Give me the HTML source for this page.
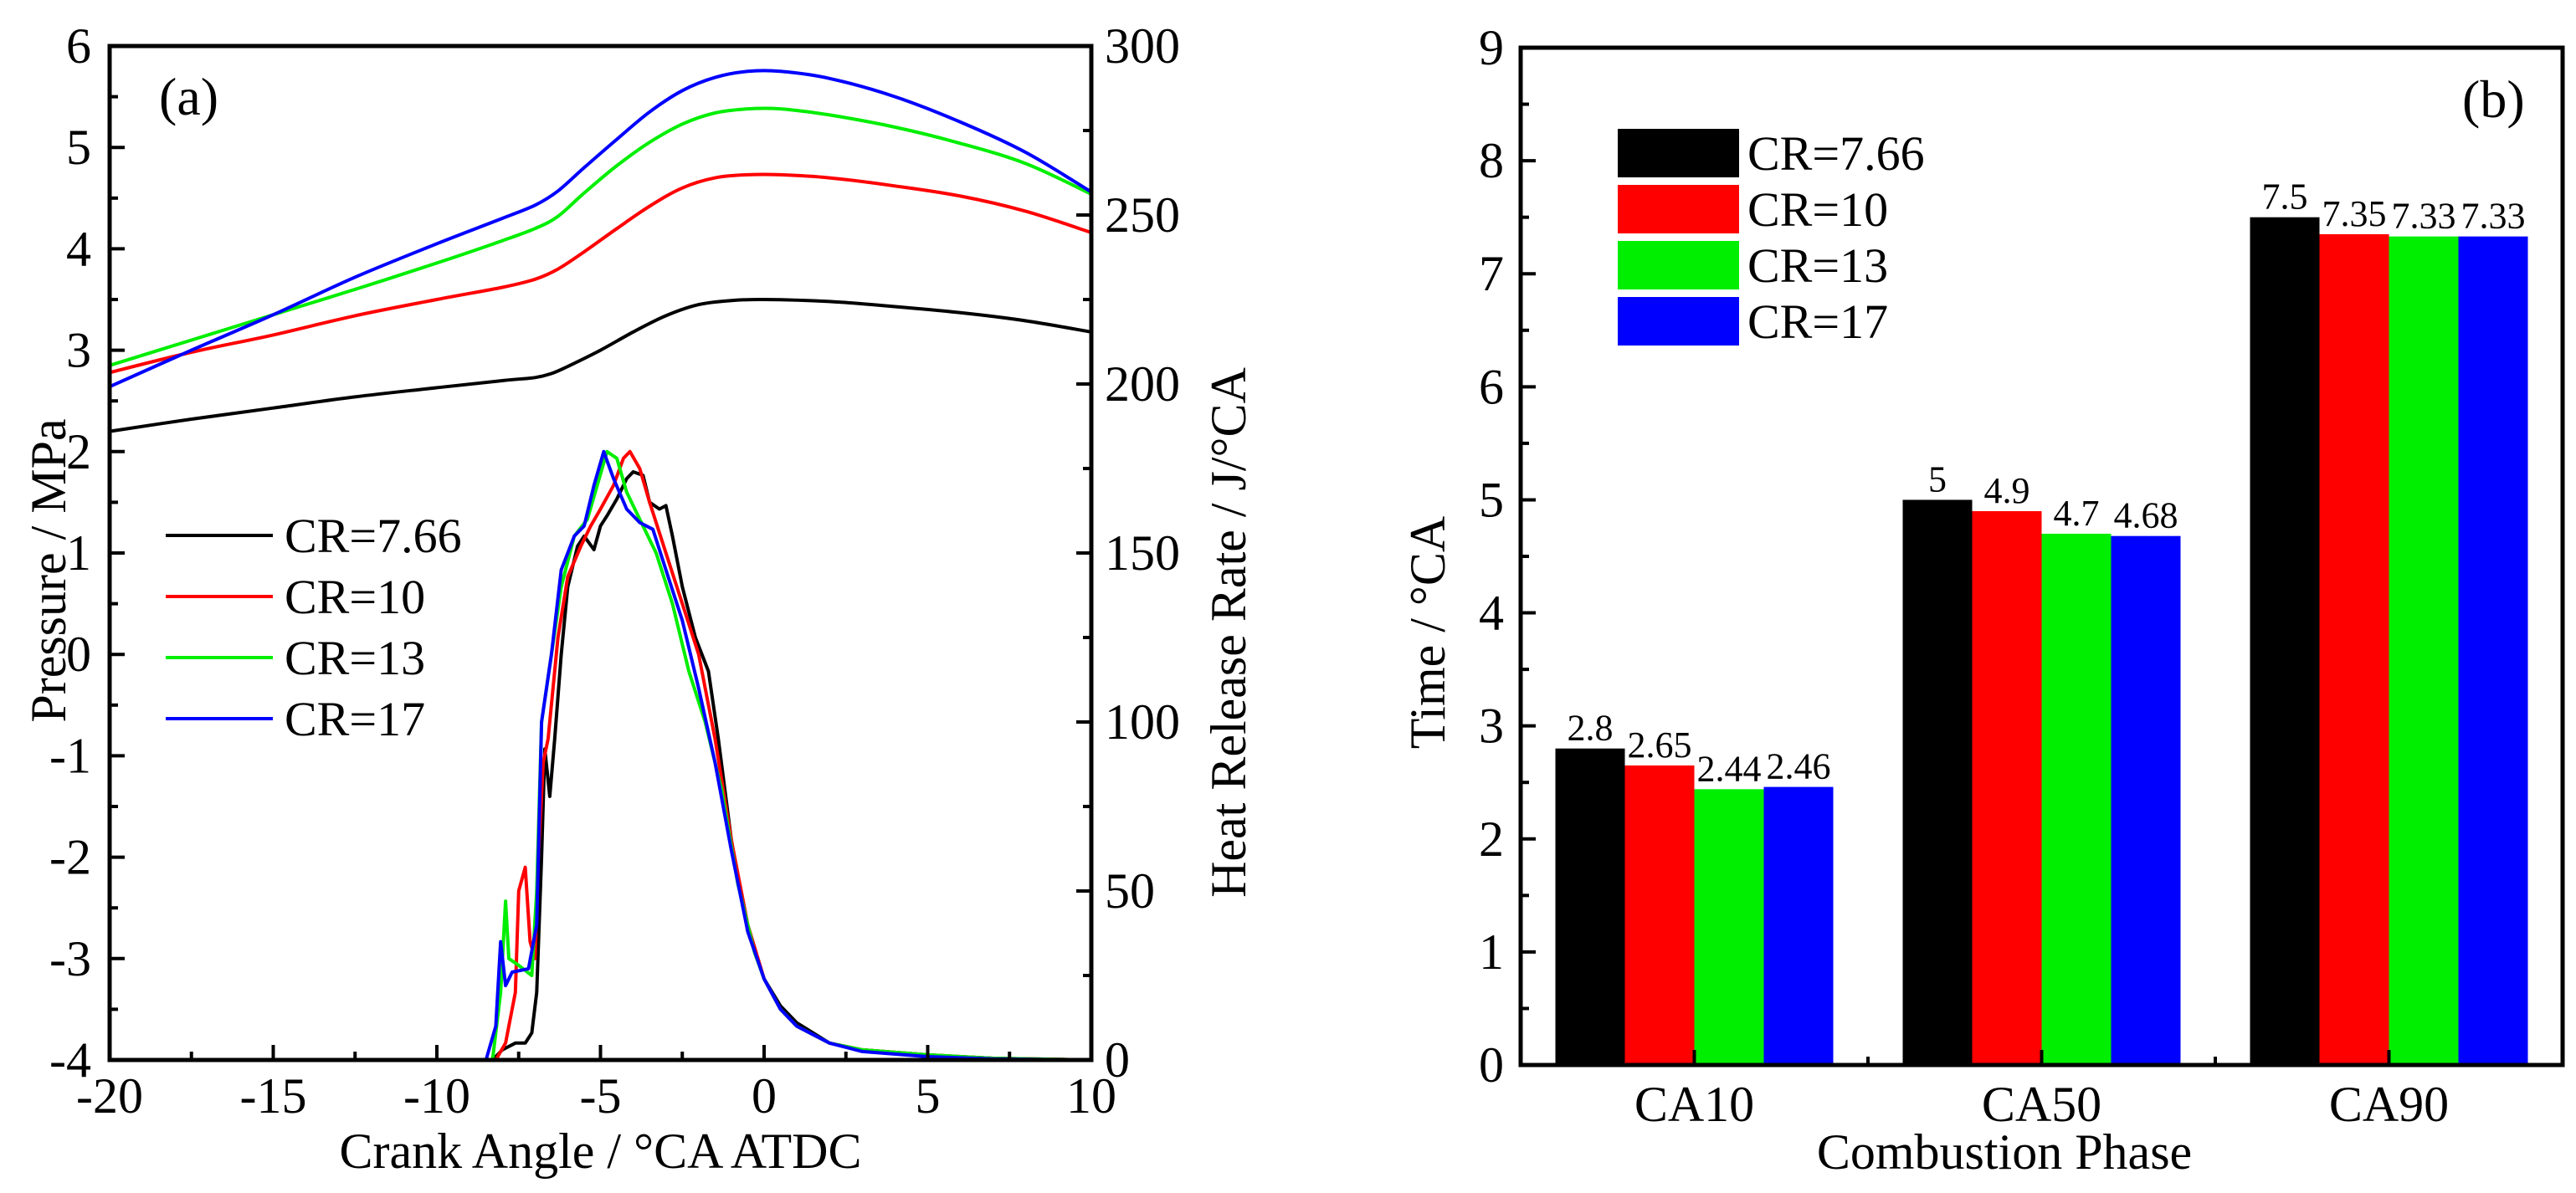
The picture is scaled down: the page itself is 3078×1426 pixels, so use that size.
<!DOCTYPE html>
<html><head><meta charset="utf-8"><style>
html,body{margin:0;padding:0;background:#fff;}
svg{display:block;font-family:"Liberation Serif",serif;}
</style></head><body>
<svg id="c" width="3078" height="1426" viewBox="0 0 3078 1426" xmlns="http://www.w3.org/2000/svg"></svg>
<script>
// ---- Chart (a) data ----
const seriesNames = ["CR=7.66","CR=10","CR=13","CR=17"];
const seriesColors = ["#000000","#ff0000","#00ee00","#0000ff"];
const xTicksA = [-20,-15,-10,-5,0,5,10];
const yTicksLeft = [6,5,4,3,2,1,0,-1,-2,-3,-4];
const yTicksRight = [0,50,100,150,200,250,300];
const pressure766 = [[-20,2.2],[-17.5,2.32],[-15,2.43],[-12.5,2.54],[-10,2.63],[-8,2.7],[-7,2.73],[-6.5,2.77],[-6,2.84],[-5,3.0],[-4,3.18],[-3,3.34],[-2,3.45],[-1,3.49],[0,3.5],[2,3.48],[4,3.43],[6,3.37],[8,3.29],[10,3.18]];
const pressure10 = [[-20,2.78],[-17.5,2.98],[-15,3.15],[-12.5,3.34],[-10,3.5],[-8,3.62],[-7,3.7],[-6.3,3.8],[-5.5,3.97],[-4.5,4.2],[-3.5,4.42],[-2.5,4.6],[-1.5,4.7],[-0.5,4.73],[0.5,4.73],[2,4.7],[4,4.62],[6,4.52],[8,4.37],[10,4.16]];
const pressure13 = [[-20,2.85],[-17.5,3.1],[-15,3.35],[-12.5,3.6],[-10,3.86],[-8,4.08],[-7,4.2],[-6.3,4.32],[-5.5,4.55],[-4.5,4.82],[-3.5,5.05],[-2.5,5.23],[-1.5,5.34],[-0.5,5.38],[0.5,5.38],[2,5.32],[4,5.2],[6,5.04],[8,4.84],[10,4.54]];
const pressure17 = [[-20,2.64],[-17.5,3.0],[-15,3.35],[-12.5,3.72],[-10,4.05],[-8,4.3],[-7,4.43],[-6.3,4.57],[-5.5,4.8],[-4.5,5.08],[-3.5,5.35],[-2.5,5.56],[-1.5,5.69],[-0.5,5.75],[0.5,5.75],[2,5.68],[4,5.5],[6,5.25],[8,4.95],[10,4.56]];
const hrr766 = [[-20,0],[-8.3,0],[-8,3],[-7.6,5],[-7.3,5],[-7.1,8],[-6.95,20],[-6.8,60],[-6.7,92],[-6.55,78],[-6.4,95],[-6.2,120],[-6,140],[-5.7,152],[-5.5,155],[-5.2,151],[-5,158],[-4.8,161],[-4.5,166],[-4.2,172],[-4,174],[-3.7,173],[-3.5,165],[-3.2,163],[-3,164],[-2.8,155],[-2.5,140],[-2.1,125],[-1.7,115],[-1.4,95],[-1,65],[-0.5,38],[0,24],[0.5,16],[1,11],[2,5],[3,3],[5,1.5],[7,0.5],[10,0]];
const hrr10 = [[-20,0],[-8.2,0],[-7.9,5],[-7.6,20],[-7.5,50],[-7.3,57],[-7.15,35],[-7.0,30],[-6.9,60],[-6.75,88],[-6.6,95],[-6.3,125],[-6.0,143],[-5.6,152],[-5.3,158],[-5,163],[-4.6,170],[-4.3,178],[-4.1,180],[-3.8,175],[-3.5,165],[-3,150],[-2.5,135],[-2,120],[-1.5,95],[-1,65],[-0.5,40],[0,24],[0.5,15],[1,10],[2,5],[3,3],[5,1.5],[7,0.5],[10,0]];
const hrr13 = [[-20,0],[-8.3,0],[-8.05,20],[-7.9,47],[-7.8,30],[-7.5,28],[-7.1,25],[-6.95,50],[-6.8,100],[-6.5,120],[-6.2,140],[-5.8,155],[-5.4,160],[-5.1,170],[-4.8,180],[-4.5,178],[-4.2,168],[-3.8,160],[-3.3,150],[-2.8,135],[-2.3,115],[-1.8,100],[-1.3,80],[-0.8,52],[-0.3,32],[0,24],[0.5,15],[1,10],[2,5],[3,3],[5,1.5],[7,0.5],[10,0]];
const hrr17 = [[-20,0],[-8.5,0],[-8.2,10],[-8.05,35],[-7.9,22],[-7.7,26],[-7.2,27],[-6.95,40],[-6.8,100],[-6.5,120],[-6.2,145],[-5.8,155],[-5.5,158],[-5.2,170],[-4.9,180],[-4.6,172],[-4.2,163],[-3.8,159],[-3.4,157],[-3,145],[-2.5,130],[-2,110],[-1.5,88],[-1,62],[-0.5,38],[0,24],[0.5,15],[1,10],[2,5],[3,2.5],[5,1],[7,0.3],[10,0]];
// ---- Chart (b) data ----
const categories = ["CA10","CA50","CA90"];
const bars766 = [2.8,5,7.5];
const bars10 = [2.65,4.9,7.35];
const bars13 = [2.44,4.7,7.33];
const bars17 = [2.46,4.68,7.33];
const barLabels766 = ["2.8","5","7.5"];
const barLabels10 = ["2.65","4.9","7.35"];
const barLabels13 = ["2.44","4.7","7.33"];
const barLabels17 = ["2.46","4.68","7.33"];
const yTicksB = [0,1,2,3,4,5,6,7,8,9];

const NS="http://www.w3.org/2000/svg";
const svg=document.getElementById('c');
function mk(tag,attrs,parent){const e=document.createElementNS(NS,tag);for(const k in attrs)e.setAttribute(k,attrs[k]);(parent||svg).appendChild(e);return e;}
function txt(s,x,y,size,anchor,parent,rot){const t=mk('text',{x:x,y:y,'font-size':size,'font-family':'Liberation Serif, serif','text-anchor':anchor||'middle',fill:'#000'},parent);if(rot)t.setAttribute('transform','rotate(-90 '+x+' '+y+')');t.textContent=s;return t;}
function smooth(pts){let d='M'+pts[0][0].toFixed(1)+','+pts[0][1].toFixed(1);for(let i=0;i<pts.length-1;i++){const p0=pts[i-1]||pts[i],p1=pts[i],p2=pts[i+1],p3=pts[i+2]||p2;
const c1=[p1[0]+(p2[0]-p0[0])/6,p1[1]+(p2[1]-p0[1])/6],c2=[p2[0]-(p3[0]-p1[0])/6,p2[1]-(p3[1]-p1[1])/6];
d+='C'+c1[0].toFixed(1)+','+c1[1].toFixed(1)+' '+c2[0].toFixed(1)+','+c2[1].toFixed(1)+' '+p2[0].toFixed(1)+','+p2[1].toFixed(1);}return d;}

// ===== Chart (a) =====
const A={l:131,r:1304,t:55,b:1267};
const xA=v=>A.l+(v+20)/30*(A.r-A.l);
const yL=v=>A.b-(v+4)/10*(A.b-A.t);
const yR=v=>A.b-v/300*(A.b-A.t);
const gA=mk('g',{});


const pSeries=[pressure766,pressure10,pressure13,pressure17];
const hSeries=[hrr766,hrr10,hrr13,hrr17];
pSeries.forEach((s,i)=>{const p=mk('path',{d:smooth(s.map(d=>[xA(d[0]),yL(d[1])])),fill:'none',stroke:seriesColors[i],'stroke-width':4,'stroke-linejoin':'round'},gA);

});
hSeries.forEach((s,i)=>{const p=mk('path',{d:'M'+s.map(d=>xA(d[0]).toFixed(1)+','+yR(d[1]).toFixed(1)).join('L'),fill:'none',stroke:seriesColors[i],'stroke-width':4,'stroke-linejoin':'round'},gA);

});
const fA=mk('rect',{x:A.l,y:A.t,width:A.r-A.l,height:A.b-A.t,fill:'none',stroke:'#000','stroke-width':5},gA);


for(let v=-20;v<=10;v+=2.5){const major=v%5===0;mk('line',{x1:xA(v),x2:xA(v),y1:A.b,y2:A.b-(major?18:10),stroke:'#000','stroke-width':4},gA);}
xTicksA.forEach(v=>{const t=txt(String(v),xA(v),1330,60,'middle',gA);});
for(let v=-4;v<=6;v+=0.5){const major=Math.abs(v%1)<1e-9;mk('line',{x1:A.l,x2:A.l+(major?18:10),y1:yL(v),y2:yL(v),stroke:'#000','stroke-width':4},gA);}
yTicksLeft.forEach(v=>{const t=txt(String(v),A.l-22,yL(v)+20,60,'end',gA);});
for(let v=0;v<=300;v+=25){const major=v%50===0;mk('line',{x1:A.r,x2:A.r-(major?18:10),y1:yR(v),y2:yR(v),stroke:'#000','stroke-width':4},gA);}
yTicksRight.forEach(v=>{const t=txt(String(v),A.r+16,yR(v)+20,60,'start',gA);});
let t;
t=txt('Crank Angle / °CA ATDC',(A.l+A.r)/2,1396,60,'middle',gA);
t=txt('Pressure / MPa',78,682,60,'middle',gA,true);
t=txt('Heat Release Rate / J/°CA',1488,756,60,'middle',gA,true);
t=txt('(a)',190,137,64,'start',gA);
seriesNames.forEach((n,i)=>{const y=640+i*73;const g=mk('g',{},gA);


mk('line',{x1:198,x2:326,y1:y,y2:y,stroke:seriesColors[i],'stroke-width':4},g);txt(n,340,y+20,58,'start',g);});

// ===== Chart (b) =====
const B={l:1817,r:3062,t:57,b:1273};
const xB=v=>B.l+(v-0.5)/3*(B.r-B.l);
const yB=v=>B.b-v/9*(B.b-B.t);
const gB=mk('g',{});


const barSets=[bars766,bars10,bars13,bars17];
const labelSets=[barLabels766,barLabels10,barLabels13,barLabels17];
categories.forEach((c,ci)=>{barSets.forEach((s,si)=>{const x0=xB(ci+1-0.4+si*0.2),x1=xB(ci+1-0.2+si*0.2);
const r=mk('rect',{x:x0,y:yB(s[ci]),width:x1-x0,height:B.b-yB(s[ci]),fill:seriesColors[si]},gB);


const l=txt(labelSets[si][ci],(x0+x1)/2,yB(s[ci])-10,44,'middle',gB);

});});
const fB=mk('rect',{x:B.l,y:B.t,width:B.r-B.l,height:B.b-B.t,fill:'none',stroke:'#000','stroke-width':5},gB);


for(let v=0;v<=9;v+=0.5){const major=Math.abs(v%1)<1e-9;mk('line',{x1:B.l,x2:B.l+(major?18:10),y1:yB(v),y2:yB(v),stroke:'#000','stroke-width':4},gB);}
yTicksB.forEach(v=>{const t=txt(String(v),B.l-20,yB(v)+20,60,'end',gB);});
categories.forEach((c,i)=>{mk('line',{x1:xB(i+1),x2:xB(i+1),y1:B.b,y2:B.b-18,stroke:'#000','stroke-width':4},gB);
const t=txt(c,xB(i+1),1340,60,'middle',gB);});
[1.5,2.5].forEach(v=>mk('line',{x1:xB(v),x2:xB(v),y1:B.b,y2:B.b-10,stroke:'#000','stroke-width':4},gB));
t=txt('Combustion Phase',2395,1397,60,'middle',gB);
t=txt('Time / °CA',1726,756,60,'middle',gB,true);
t=txt('(b)',2942,140,64,'start',gB);
seriesNames.forEach((n,i)=>{const y=183+i*67;const g=mk('g',{},gB);


mk('rect',{x:1933,y:y-29,width:145,height:58,fill:seriesColors[i]},g);txt(n,2088,y+20,58,'start',g);});
</script>
</body></html>
